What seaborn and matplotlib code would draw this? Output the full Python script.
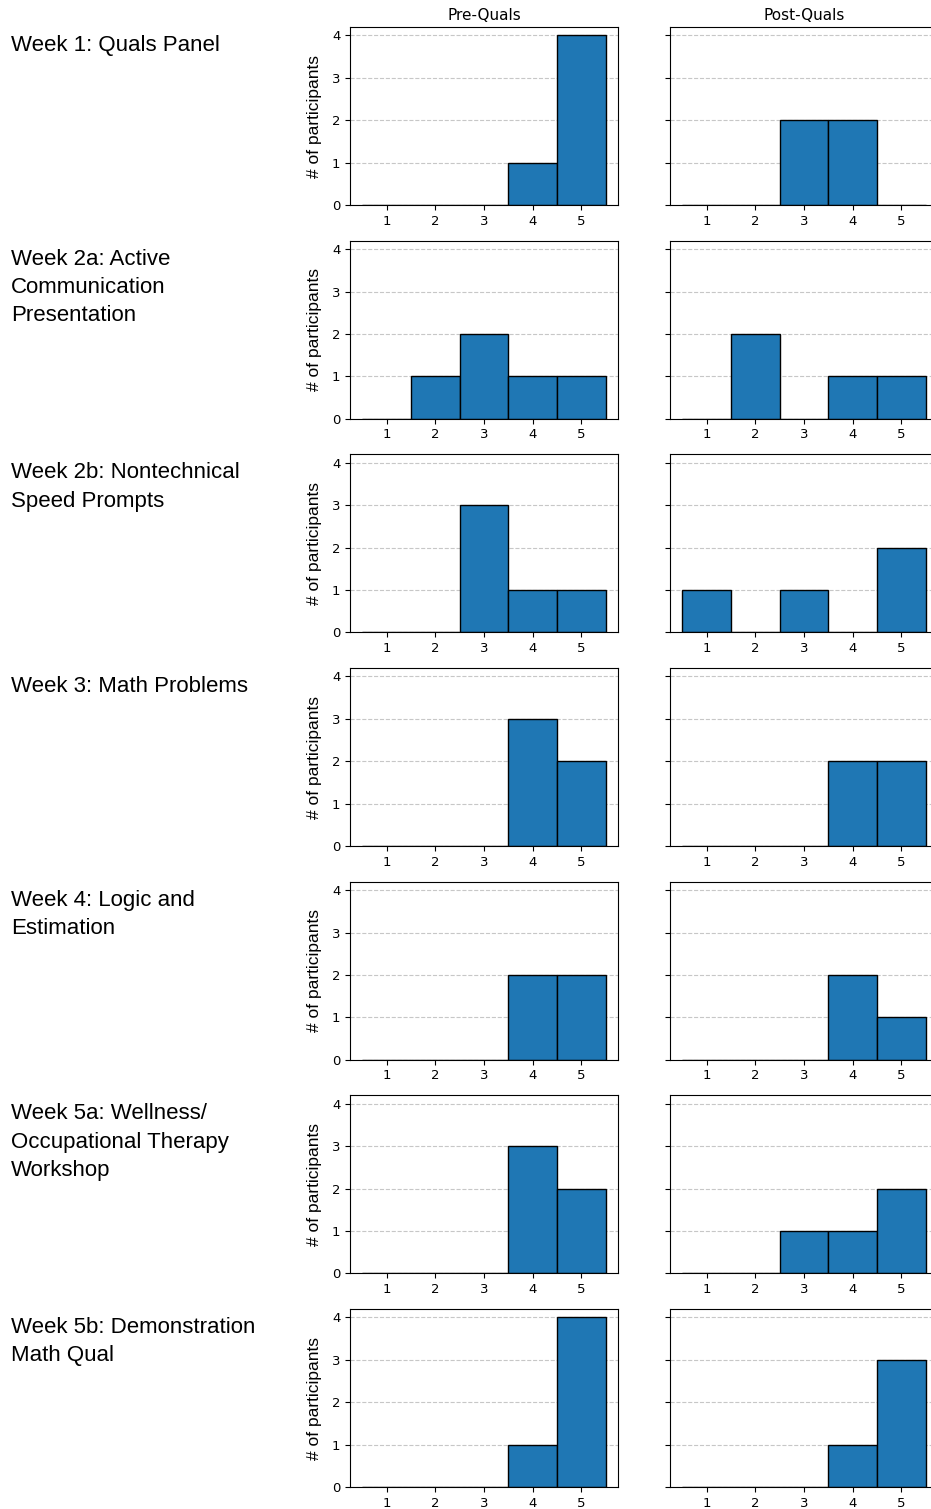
import numpy as np
import pandas as pd
import seaborn as sns
import matplotlib
matplotlib.use('Agg')
import matplotlib.pyplot as plt

# rating scale and labels
ratings = [1, 2, 3, 4, 5]
weeks = ['Week 1: Quals Panel',
         'Week 2a: Active\nCommunication\nPresentation',
         'Week 2b: Nontechnical\nSpeed Prompts',
         'Week 3: Math Problems',
         'Week 4: Logic and\nEstimation',
         'Week 5a: Wellness/\nOccupational Therapy\nWorkshop',
         'Week 5b: Demonstration\nMath Qual']

# number of participants per rating
pre_w1 = [0, 0, 0, 1, 4]
post_w1 = [0, 0, 2, 2, 0]
pre_w2a = [0, 1, 2, 1, 1]
post_w2a = [0, 2, 0, 1, 1]
pre_w2b = [0, 0, 3, 1, 1]
post_w2b = [1, 0, 1, 0, 2]
pre_w3 = [0, 0, 0, 3, 2]
post_w3 = [0, 0, 0, 2, 2]
pre_w4 = [0, 0, 0, 2, 2]
post_w4 = [0, 0, 0, 2, 1]
pre_w5a = [0, 0, 0, 3, 2]
post_w5a = [0, 0, 1, 1, 2]
pre_w5b = [0, 0, 0, 1, 4]
post_w5b = [0, 0, 0, 1, 3]

pre = [pre_w1, pre_w2a, pre_w2b, pre_w3, pre_w4, pre_w5a, pre_w5b]
post = [post_w1, post_w2a, post_w2b, post_w3, post_w4, post_w5a, post_w5b]

W, H = 931, 1509
fig = plt.figure(figsize=(W / 100, H / 100), dpi=100)

bins = [0.5, 1.5, 2.5, 3.5, 4.5, 5.5]
ax_h = 178
col_x = [350, 670]
ax_w = 268


def draw_hist(ax, counts):
    df = pd.DataFrame({'rating': ratings, 'n': counts})
    sns.histplot(data=df, x='rating', weights='n', bins=bins, ax=ax,
                 color='#1f77b4', edgecolor='black', linewidth=1.0,
                 alpha=1.0)
    ax.set_xlim(0.25, 5.75)
    ax.set_ylim(0, 4.2)
    ax.set_xticks(ratings)
    ax.set_yticks([0, 1, 2, 3, 4])
    ax.grid(axis='y', linestyle='--', color='#b0b0b0', alpha=0.7,
            linewidth=0.8)
    ax.set_axisbelow(True)
    ax.set_xlabel('')
    ax.tick_params(labelsize=9.5)


for i in range(len(weeks)):
    bottom = 205 + i * 213.67
    top = bottom - ax_h
    axes = []
    for j in range(2):
        ax = fig.add_axes([col_x[j] / W, 1 - bottom / H, ax_w / W, ax_h / H])
        axes.append(ax)
    draw_hist(axes[0], pre[i])
    draw_hist(axes[1], post[i])
    axes[0].set_ylabel('# of participants', fontsize=12.5,
                       family='Liberation Sans', labelpad=7)
    axes[1].set_ylabel('')
    axes[1].tick_params(labelleft=False)
    if i == 0:
        axes[0].set_title('Pre-Quals', fontsize=11, pad=5)
        axes[1].set_title('Post-Quals', fontsize=11, pad=5)
    fig.text(11 / W, 1 - (top + 8) / H, weeks[i], fontsize=16,
             family='Liberation Sans', va='top', ha='left',
             linespacing=1.45)

fig.savefig('out.png', dpi=100)
